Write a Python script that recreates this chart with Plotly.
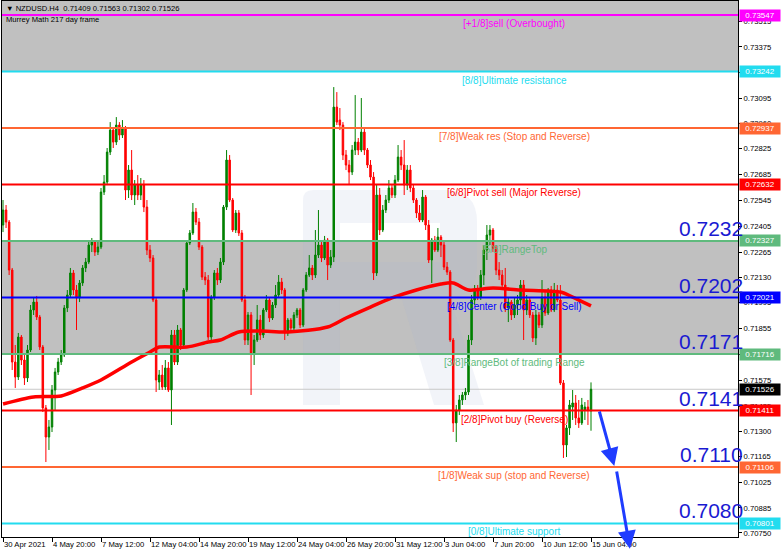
import plotly.graph_objects as go

# ---------------- data ----------------
open_ = [0.72413,0.72494,0.72429,0.72170,0.71673,0.71592,0.71808,0.71684,0.71587,0.71738,
         0.71954,0.71997,0.71916,0.71754,0.71425,0.71268,0.71322,0.71522,0.71619,0.71673,
         0.71711,0.71965,0.72035,0.72154,0.72062,0.72019,0.72100,0.72181,0.72213,0.72305,
         0.72321,0.72267,0.72294,0.72591,0.72645,0.72807,0.72926,0.72861,0.72953,0.72899,
         0.72937,0.72602,0.72710,0.72575,0.72629,0.72575,0.72629,0.72510,0.72278,0.72235,
         0.72008,0.71565,0.71603,0.71538,0.71641,0.71522,0.71819,0.71673,0.71846,0.71765,
         0.72062,0.72316,0.72370,0.72483,0.72429,0.72294,0.72132,0.72116,0.71808,0.72024,
         0.72154,0.72116,0.72213,0.72510,0.72764,0.72548,0.72386,0.72478,0.72370,0.72008,
         0.71792,0.71927,0.71722,0.71792,0.71900,0.71819,0.71954,0.72008,0.71911,0.71981,
         0.72035,0.72105,0.72062,0.71830,0.71900,0.71857,0.71927,0.71954,0.71873,0.72062,
         0.72143,0.72181,0.72143,0.72251,0.72305,0.72235,0.72332,0.72197,0.72240,0.73050,
         0.72980,0.72953,0.72791,0.72737,0.72699,0.72818,0.72861,0.72818,0.72915,0.72818,
         0.72737,0.72672,0.72154,0.72575,0.72386,0.72494,0.72548,0.72613,0.72575,0.72656,
         0.72780,0.72737,0.72629,0.72710,0.72613,0.72548,0.72478,0.72440,0.72564,0.72413,
         0.72224,0.72332,0.72278,0.72348,0.72305,0.72186,0.72159,0.71792,0.71344,0.71414,
         0.71468,0.71495,0.71511,0.71792,0.72008,0.72062,0.72024,0.72143,0.72278,0.72359,
         0.72386,0.72289,0.72170,0.72143,0.72089,0.71965,0.71997,0.71927,0.71981,0.72008,
         0.72089,0.71954,0.72008,0.71927,0.71803,0.71927,0.71873,0.72024,0.71938,0.72062,
         0.71954,0.72062,0.72008,0.71560,0.71225,0.71317,0.71430,0.71452,0.71371,0.71344,
         0.71414,0.71430,0.71409]
high = [0.72548,0.72521,0.72440,0.72181,0.71765,0.71830,0.71819,0.71711,0.71765,0.71981,
        0.72019,0.72030,0.71927,0.71765,0.71441,0.71360,0.71549,0.71641,0.71695,0.71738,
        0.71981,0.72062,0.72181,0.72170,0.72089,0.72116,0.72197,0.72235,0.72332,0.72343,
        0.72332,0.72332,0.72613,0.72683,0.72829,0.72969,0.72937,0.72996,0.72969,0.72980,
        0.72948,0.72737,0.72818,0.72656,0.72683,0.72667,0.72656,0.72548,0.72305,0.72251,
        0.72019,0.71630,0.71657,0.71684,0.71673,0.71846,0.71846,0.71873,0.71857,0.72073,
        0.72332,0.72386,0.72532,0.72505,0.72451,0.72305,0.72159,0.72143,0.72035,0.72170,
        0.72181,0.72235,0.72521,0.72818,0.72791,0.72559,0.72494,0.72494,0.72386,0.72035,
        0.71943,0.71943,0.71819,0.71981,0.71927,0.71965,0.72035,0.72019,0.71997,0.72089,
        0.72143,0.72127,0.72073,0.71911,0.71911,0.71943,0.71965,0.71965,0.72073,0.72159,
        0.72251,0.72197,0.72386,0.72494,0.72321,0.72354,0.72343,0.72278,0.73158,0.73131,
        0.73045,0.72969,0.72818,0.72764,0.72845,0.73115,0.72883,0.73099,0.72937,0.72829,
        0.72764,0.72699,0.72629,0.72613,0.72521,0.72575,0.72656,0.72629,0.72683,0.72845,
        0.72818,0.72872,0.72737,0.72737,0.72629,0.72559,0.72521,0.72602,0.72575,0.72440,
        0.72343,0.72354,0.72397,0.72359,0.72321,0.72213,0.72170,0.71803,0.71441,0.71495,
        0.71511,0.71533,0.71819,0.72035,0.72089,0.72089,0.72170,0.72305,0.72413,0.72413,
        0.72397,0.72305,0.72213,0.72170,0.72181,0.72019,0.72008,0.72019,0.72035,0.72116,
        0.72116,0.72035,0.72019,0.71943,0.71954,0.71943,0.72116,0.72051,0.72073,0.72084,
        0.72100,0.72089,0.72089,0.71576,0.71333,0.71468,0.71522,0.71495,0.71468,0.71479,
        0.71457,0.71468,0.71563]
low = [0.72375,0.72397,0.72143,0.71630,0.71533,0.71576,0.71657,0.71549,0.71565,0.71727,
       0.71927,0.71900,0.71738,0.71403,0.71133,0.71198,0.71295,0.71414,0.71603,0.71657,
       0.71700,0.71943,0.72019,0.72035,0.71846,0.71997,0.72084,0.72159,0.72202,0.72267,
       0.72246,0.72251,0.72283,0.72575,0.72629,0.72791,0.72829,0.72845,0.72872,0.72883,
       0.72548,0.72559,0.72548,0.72521,0.72548,0.72548,0.72483,0.72251,0.72213,0.71997,
       0.71511,0.71522,0.71522,0.71522,0.71511,0.71333,0.71657,0.71657,0.71738,0.71749,
       0.72051,0.72305,0.72359,0.72413,0.72278,0.72116,0.72089,0.71792,0.71792,0.72008,
       0.72089,0.72100,0.72197,0.72494,0.72537,0.72375,0.72370,0.72354,0.71997,0.71765,
       0.71765,0.71495,0.71657,0.71781,0.71792,0.71803,0.71943,0.71889,0.71900,0.71965,
       0.72019,0.72040,0.71792,0.71814,0.71835,0.71846,0.71911,0.71857,0.71862,0.72051,
       0.72132,0.72116,0.72127,0.72235,0.72213,0.72224,0.72116,0.72181,0.72213,0.72953,
       0.72926,0.72764,0.72710,0.72629,0.72683,0.72791,0.72791,0.72807,0.72791,0.72721,
       0.72656,0.72116,0.72138,0.72359,0.72375,0.72478,0.72532,0.72559,0.72559,0.72645,
       0.72710,0.72575,0.72602,0.72591,0.72532,0.72451,0.72429,0.72429,0.72386,0.72208,
       0.72100,0.72267,0.72267,0.72240,0.72170,0.72143,0.71781,0.71295,0.71241,0.71387,
       0.71441,0.71468,0.71495,0.71765,0.71981,0.72008,0.72008,0.72089,0.72224,0.72305,
       0.72267,0.72143,0.72116,0.72062,0.71943,0.71889,0.71900,0.71911,0.71927,0.71981,
       0.71792,0.71927,0.71911,0.71781,0.71765,0.71857,0.71857,0.71922,0.71927,0.71943,
       0.71943,0.71997,0.71549,0.71155,0.71160,0.71279,0.71360,0.71333,0.71317,0.71333,
       0.71360,0.71333,0.71302]
close = [0.72494,0.72429,0.72170,0.71673,0.71592,0.71808,0.71684,0.71587,0.71738,0.71954,
         0.71997,0.71916,0.71754,0.71425,0.71268,0.71322,0.71522,0.71619,0.71673,0.71711,
         0.71965,0.72035,0.72154,0.72062,0.72019,0.72100,0.72181,0.72213,0.72305,0.72321,
         0.72267,0.72294,0.72591,0.72645,0.72807,0.72926,0.72861,0.72953,0.72899,0.72937,
         0.72602,0.72710,0.72575,0.72629,0.72575,0.72629,0.72510,0.72278,0.72235,0.72008,
         0.71576,0.71603,0.71538,0.71641,0.71522,0.71819,0.71673,0.71846,0.71765,0.72062,
         0.72316,0.72370,0.72483,0.72429,0.72294,0.72132,0.72116,0.71808,0.72024,0.72154,
         0.72116,0.72213,0.72510,0.72764,0.72548,0.72386,0.72478,0.72370,0.72008,0.71792,
         0.71927,0.71722,0.71792,0.71900,0.71819,0.71954,0.72008,0.71911,0.71981,0.72035,
         0.72105,0.72062,0.71830,0.71900,0.71857,0.71927,0.71954,0.71873,0.72062,0.72143,
         0.72181,0.72143,0.72251,0.72305,0.72235,0.72332,0.72197,0.72240,0.73050,0.72969,
         0.72953,0.72791,0.72737,0.72699,0.72818,0.72861,0.72818,0.72915,0.72818,0.72737,
         0.72672,0.72154,0.72575,0.72386,0.72494,0.72548,0.72613,0.72575,0.72656,0.72780,
         0.72737,0.72629,0.72710,0.72613,0.72548,0.72478,0.72440,0.72564,0.72413,0.72224,
         0.72332,0.72278,0.72348,0.72305,0.72186,0.72159,0.71792,0.71344,0.71414,0.71468,
         0.71495,0.71511,0.71792,0.72008,0.72062,0.72024,0.72143,0.72278,0.72359,0.72386,
         0.72289,0.72170,0.72143,0.72089,0.71965,0.71997,0.71927,0.71981,0.72008,0.72089,
         0.71954,0.72008,0.71927,0.71803,0.71927,0.71873,0.72024,0.71938,0.72062,0.71954,
         0.72062,0.72008,0.71560,0.71225,0.71317,0.71441,0.71452,0.71371,0.71344,0.71441,
         0.71430,0.71414,0.71526]
bars = list(range(len(close)))

# moving average (thick red line) sampled at bar positions
ma_bar = [0, 10, 19, 26, 32, 42, 48, 51, 60, 67, 71, 77, 84, 93, 106, 112, 120, 127,
          135, 143, 147, 152, 160, 169, 182, 186, 192]
ma_val = [0.71446, 0.71484, 0.71490, 0.71533, 0.71576, 0.71673, 0.71727, 0.71754, 0.71754,
          0.71781, 0.71792, 0.71835, 0.71840, 0.71835, 0.71862, 0.71911, 0.71970, 0.72019,
          0.72062, 0.72094, 0.72100, 0.72062, 0.72073, 0.72062, 0.72051, 0.72024, 0.71976]

levels = [0.73547, 0.73242, 0.72937, 0.72632, 0.72327, 0.72021, 0.71716, 0.71411, 0.71106, 0.70801]
level_names = ["[+1/8]sell (Overbought)", "[8/8]Ultimate resistance",
               "[7/8]Weak res (Stop and Reverse)", "[6/8]Pivot sell (Major Reverse)",
               "[5/8]RangeTop", "[4/8]Center (Good Buy or Sell)",
               "[3/8]RangeBot of trading Range", "[2/8]Pivot buy (Reverse)",
               "[1/8]Weak sup (stop and Reverse)", "[0/8]Ultimate support"]
level_colors = ["#ff00ff", "#22dcef", "#ff6633", "#ff0000", "#5fba7d",
                "#0000ff", "#5fba7d", "#ff0000", "#ff6633", "#22dcef"]
big_levels = [0.72327, 0.72021, 0.71716, 0.71411, 0.71106, 0.70801]
big_texts = ["0.7232", "0.7202", "0.7171", "0.7141", "0.7110", "0.7080"]
current_price = 0.71526

x_tick_bars = [0, 16, 32, 48, 64, 80, 96, 112, 128, 144, 160, 176, 192]
x_tick_text = ["30 Apr 2021", "4 May 20:00", "7 May 12:00", "12 May 04:00", "14 May 20:00",
               "19 May 12:00", "24 May 04:00", "26 May 20:00", "31 May 12:00", "3 Jun 04:00",
               "7 Jun 20:00", "10 Jun 12:00", "15 Jun 04:00"]
y_ticks = ["0.73515", "0.73375", "0.73235", "0.73095", "0.72960", "0.72825", "0.72685",
           "0.72545", "0.72405", "0.72265", "0.72130", "0.71995", "0.71855", "0.71715",
           "0.71575", "0.71435", "0.71300", "0.71165", "0.71025", "0.70885", "0.70750"]

# forecast arrows: (tail bar, tail price, head bar, head price)
arrows = [(194.6, 0.71414, 199.6, 0.71112), (200.3, 0.71090, 204.7, 0.70665)]

FONT = "Liberation Sans, Arial, sans-serif"
Y_RANGE = [0.70728, 0.73623]
X_RANGE = [-0.33, 240.0]
W, H = 782, 552
ML, MR, MT, MB = 2, 44, 1, 15


def px_to_paper(px, py):
    return ((px - ML) / (W - ML - MR), (H - MB - py) / (H - MT - MB))


def path_from_pixels(segments):
    parts = []
    for seg in segments:
        cmd = seg[0]
        pts = seg[1:]
        coords = " ".join("%.4f,%.4f" % px_to_paper(*p) for p in pts)
        parts.append(cmd + " " + coords if coords else cmd)
    return " ".join(parts)


# faint broker "R" watermark (decoration)
watermark = path_from_pixels([
    ("M", (303, 405)), ("L", (303, 200)), ("Q", (303, 190), (313, 190)), ("L", (445, 190)),
    ("Q", (477, 190), (477, 222)), ("L", (477, 266)), ("Q", (477, 296), (450, 298)),
    ("L", (484, 405)), ("L", (434, 405)), ("L", (402, 300)), ("L", (340, 300)),
    ("L", (340, 405)), ("Z",),
    ("M", (340, 223)), ("L", (340, 262)), ("L", (440, 262)), ("L", (440, 223)), ("Z",),
])

fig = go.Figure()

# shaded zones
fig.add_shape(type="rect", xref="paper", yref="y", x0=0, x1=1, y0=levels[1], y1=Y_RANGE[1],
              fillcolor="#c0c0c0", line_width=0, layer="below")
fig.add_shape(type="rect", xref="paper", yref="y", x0=0, x1=1, y0=levels[6], y1=levels[4],
              fillcolor="#c0c0c0", line_width=0, layer="below")
fig.add_shape(type="path", xref="paper", yref="paper", path=watermark,
              fillcolor="rgba(160,180,215,0.14)", line_width=0, layer="below")

# current price line
fig.add_shape(type="line", xref="paper", yref="y", x0=0, x1=1, y0=current_price, y1=current_price,
              line=dict(color="#c8c8c8", width=1), layer="below")

fig.add_trace(go.Candlestick(
    x=bars, open=open_, high=high, low=low, close=close,
    increasing=dict(line=dict(color="#008000", width=1), fillcolor="#008000"),
    decreasing=dict(line=dict(color="#ff0000", width=1), fillcolor="#ff0000"),
    whiskerwidth=0, showlegend=False, hoverinfo="skip"))

fig.add_trace(go.Scatter(x=ma_bar, y=ma_val, mode="lines",
                         line=dict(color="#ff0000", width=3.5, shape="spline", smoothing=0.8),
                         showlegend=False, hoverinfo="skip"))

# level lines, labels and price boxes
for lv, name, col in zip(levels, level_names, level_colors):
    fig.add_shape(type="line", xref="paper", yref="y", x0=0, x1=1, y0=lv, y1=lv,
                  line=dict(color=col, width=2))
    fig.add_annotation(xref="paper", yref="y", x=0.6957, y=lv, text=name, showarrow=False,
                       xanchor="center", yanchor="top", yshift=-1,
                       font=dict(family=FONT, size=10, color=col))
    fig.add_annotation(xref="paper", yref="y", x=1, y=lv, text=f"{lv:.5f}", showarrow=False,
                       xanchor="left", yanchor="middle", xshift=1, bgcolor=col, width=38,
                       borderpad=1, font=dict(family=FONT, size=8, color="white"))

fig.add_annotation(xref="paper", yref="y", x=1, y=current_price, text=f"{current_price:.5f}",
                   showarrow=False, xanchor="left", yanchor="middle", xshift=1, bgcolor="#000000",
                   width=38, borderpad=1, font=dict(family=FONT, size=8, color="white"))

for lv, t in zip(big_levels, big_texts):
    fig.add_annotation(xref="paper", yref="y", x=1.0095, y=lv, text=t, showarrow=False,
                       xanchor="right", yanchor="bottom", yshift=-1,
                       font=dict(family=FONT, size=21, color="#1a1ad2"))

for tx, ty, hx, hy in arrows:
    fig.add_annotation(x=hx, y=hy, ax=tx, ay=ty, xref="x", yref="y", axref="x", ayref="y",
                       showarrow=True, arrowhead=2, arrowsize=1.2, arrowwidth=3,
                       arrowcolor="#1f3cff", text="")

# header texts
fig.add_annotation(xref="paper", yref="paper", x=0.003, y=1.0, yshift=-1, xanchor="left",
                   yanchor="top", showarrow=False,
                   text="▼ NZDUSD.H4  0.71409 0.71563 0.71302 0.71526",
                   font=dict(family=FONT, size=7.6, color="#000000"))
fig.add_annotation(xref="paper", yref="paper", x=0.003, y=0.978, xanchor="left",
                   yanchor="top", showarrow=False, text="Murrey Math 217 day frame",
                   font=dict(family=FONT, size=7.6, color="#000000"))

fig.update_layout(
    width=W, height=H,
    margin=dict(l=ML, r=MR, t=MT, b=MB, autoexpand=False),
    paper_bgcolor="white", plot_bgcolor="white",
    font=dict(family=FONT, size=8, color="#000000"),
    showlegend=False,
    xaxis=dict(range=X_RANGE, rangeslider=dict(visible=False), showgrid=False, zeroline=False,
               tickmode="array", tickvals=x_tick_bars, ticktext=x_tick_text, tickangle=0,
               automargin=False,
               ticks="outside", ticklen=4, tickcolor="#000000", ticklabelposition="outside right",
               tickfont=dict(family=FONT, size=7.7, color="#000000"),
               showline=True, linecolor="#000000", linewidth=1, mirror=True),
    yaxis=dict(range=Y_RANGE, side="right", showgrid=False, zeroline=False, automargin=False,
               tickmode="array", tickvals=[float(v) for v in y_ticks], ticktext=y_ticks,
               ticks="outside", ticklen=3, tickcolor="#000000",
               tickfont=dict(family=FONT, size=7.7, color="#000000"),
               showline=True, linecolor="#000000", linewidth=1, mirror=True),
)

fig.write_html("out.html", config={"displayModeBar": False},
               post_script="document.body.style.margin='0';document.body.style.overflow='hidden';")
